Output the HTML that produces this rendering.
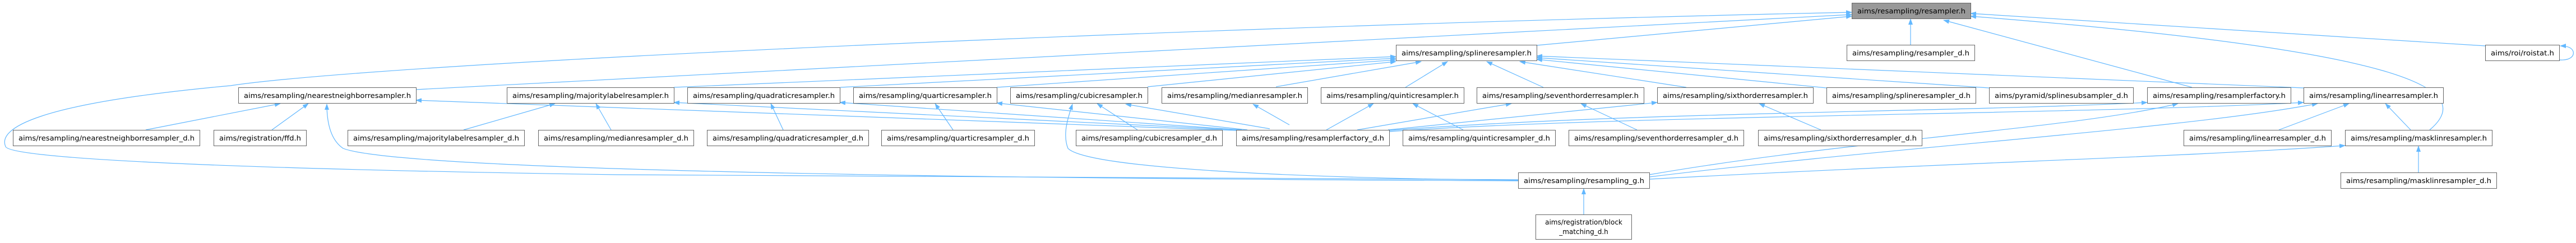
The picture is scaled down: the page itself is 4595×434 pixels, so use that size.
<!DOCTYPE html>
<html><head><meta charset="utf-8"><style>
html,body{margin:0;padding:0;background:#fff;}
svg{display:block;}
text{font-family:"DejaVu Sans","Liberation Sans",sans-serif;font-size:12px;fill:#000;}
.b{fill:#fff;stroke:#666;stroke-width:1;}
.e{fill:none;stroke:#63b8ff;stroke-width:1.2;}
</style></head><body>
<svg width="4595" height="434" viewBox="0 0 4595 434" xmlns="http://www.w3.org/2000/svg">
<defs>
<marker id="a" markerWidth="11" markerHeight="8" refX="10" refY="4" orient="auto" markerUnits="userSpaceOnUse">
<path d="M0,0 L11,4 L0,8 z" fill="#63b8ff"/>
</marker>
</defs>
<g marker-end="url(#a)">
<!-- to root -->
<path class="e" d="M3408,80 L3408,34"/>
<path class="e" d="M2741,81 L3303,29"/>
<path class="e" d="M3910,156 L3467,36"/>
<path class="e" d="M4334,232 C4420,160 4300,90 3515,29"/>
<path class="e" d="M4434,82 L3515,24"/>
<path class="e" d="M742,160 L3303,26"/>
<path class="e" d="M2708,321 L1100,312 C300,300 20,280 10,262 C-4,230 60,185 411,153 C700,110 2200,45 3303,22"/>
<path class="e" d="M4566,107 C4585,108 4592,100 4590,92 C4588,86 4582,82 4567,82"/>
<!-- to spline -->
<path class="e" d="M1202,156 L2490,101"/>
<path class="e" d="M1499,156 L2490,104"/>
<path class="e" d="M1778,156 L2490,107"/>
<path class="e" d="M2047,155 L2490,110"/>
<path class="e" d="M2276,155 L2535,110"/>
<path class="e" d="M2507,156 L2582,110"/>
<path class="e" d="M2753,156 L2652,110"/>
<path class="e" d="M3008,156 L2711,110"/>
<path class="e" d="M3258,157 L2741,106"/>
<path class="e" d="M3548,157 L2741,103"/>
<path class="e" d="M4109,157 L2741,100"/>
<!-- row4 to row3 -->
<path class="e" d="M260,232 L500,185"/>
<path class="e" d="M485,232 L550,185"/>
<path class="e" d="M2708,323 C1500,318 700,300 612,265 C590,250 583,220 583,186"/>
<path class="e" d="M2205,233 L742,179"/>
<path class="e" d="M2210,232 L1202,183"/>
<path class="e" d="M827,232 L990,185"/>
<path class="e" d="M1090,232 L1063,185"/>
<path class="e" d="M1397,232 L1375,185"/>
<path class="e" d="M2215,232 L1498,183"/>
<path class="e" d="M1700,232 L1668,185"/>
<path class="e" d="M2225,232 L1778,184"/>
<path class="e" d="M2029,232 L1957,185"/>
<path class="e" d="M2265,230 L2008,186"/>
<path class="e" d="M2708,322 C2300,318 1940,300 1905,265 C1895,240 1905,210 1913,186"/>
<path class="e" d="M2300,223 L2235,186"/>
<path class="e" d="M2366,232 L2450,185"/>
<path class="e" d="M2610,232 L2520,185"/>
<path class="e" d="M2421,232 L2696,185"/>
<path class="e" d="M2920,232 L2820,185"/>
<path class="e" d="M2476,232 L2956,183"/>
<path class="e" d="M3248,232 L3138,185"/>
<path class="e" d="M2478,233 C2900,200 3500,200 3830,183"/>
<path class="e" d="M2478,235 C2900,205 3700,205 4109,183"/>
<path class="e" d="M2942,312 C3300,250 3700,230 3885,185"/>
<path class="e" d="M2942,316 C3400,260 3900,230 4134,185"/>
<path class="e" d="M2942,320 C3500,290 3900,280 4183,260"/>
<path class="e" d="M4065,232 L4190,185"/>
<path class="e" d="M4300,232 L4255,185"/>
<path class="e" d="M4314,308 L4314,261"/>
<path class="e" d="M2825,384 L2825,337"/>
</g>
<!-- nodes -->
<rect x="3303.5" y="5.5" width="212" height="28" fill="#999" stroke="#666"/>
<text x="3313" y="24" textLength="193" lengthAdjust="spacingAndGlyphs">aims/resampling/resampler.h</text>
<g>
<rect class="b" x="2490.5" y="80.5" width="251" height="28"/><text x="2500" y="99" textLength="232" lengthAdjust="spacingAndGlyphs">aims/resampling/splineresampler.h</text>
<rect class="b" x="3294.5" y="80.5" width="228" height="28"/><text x="3304" y="99" textLength="209" lengthAdjust="spacingAndGlyphs">aims/resampling/resampler_d.h</text>
<rect class="b" x="4433.5" y="80.5" width="132" height="28"/><text x="4443" y="99" textLength="113" lengthAdjust="spacingAndGlyphs">aims/roi/roistat.h</text>

<rect class="b" x="425.5" y="156.5" width="317" height="28"/><text x="435" y="175" textLength="298" lengthAdjust="spacingAndGlyphs">aims/resampling/nearestneighborresampler.h</text>
<rect class="b" x="904.5" y="156.5" width="298" height="28"/><text x="914" y="175" textLength="279" lengthAdjust="spacingAndGlyphs">aims/resampling/majoritylabelresampler.h</text>
<rect class="b" x="1226.5" y="156.5" width="272" height="28"/><text x="1236" y="175" textLength="253" lengthAdjust="spacingAndGlyphs">aims/resampling/quadraticresampler.h</text>
<rect class="b" x="1522.5" y="156.5" width="256" height="28"/><text x="1532" y="175" textLength="237" lengthAdjust="spacingAndGlyphs">aims/resampling/quarticresampler.h</text>
<rect class="b" x="1802.5" y="156.5" width="245" height="28"/><text x="1812" y="175" textLength="226" lengthAdjust="spacingAndGlyphs">aims/resampling/cubicresampler.h</text>
<rect class="b" x="2072.5" y="156.5" width="260" height="28"/><text x="2082" y="175" textLength="241" lengthAdjust="spacingAndGlyphs">aims/resampling/medianresampler.h</text>
<rect class="b" x="2356.5" y="156.5" width="255" height="28"/><text x="2366" y="175" textLength="236" lengthAdjust="spacingAndGlyphs">aims/resampling/quinticresampler.h</text>
<rect class="b" x="2634.5" y="156.5" width="298" height="28"/><text x="2644" y="175" textLength="279" lengthAdjust="spacingAndGlyphs">aims/resampling/seventhorderresampler.h</text>
<rect class="b" x="2956.5" y="156.5" width="278" height="28"/><text x="2966" y="175" textLength="259" lengthAdjust="spacingAndGlyphs">aims/resampling/sixthorderresampler.h</text>
<rect class="b" x="3258.5" y="156.5" width="266" height="28"/><text x="3268" y="175" textLength="247" lengthAdjust="spacingAndGlyphs">aims/resampling/splineresampler_d.h</text>
<rect class="b" x="3548.5" y="156.5" width="257" height="28"/><text x="3558" y="175" textLength="238" lengthAdjust="spacingAndGlyphs">aims/pyramid/splinesubsampler_d.h</text>
<rect class="b" x="3830.5" y="156.5" width="256" height="28"/><text x="3840" y="175" textLength="237" lengthAdjust="spacingAndGlyphs">aims/resampling/resamplerfactory.h</text>
<rect class="b" x="4109.5" y="156.5" width="249" height="28"/><text x="4119" y="175" textLength="230" lengthAdjust="spacingAndGlyphs">aims/resampling/linearresampler.h</text>

<rect class="b" x="23.5" y="232.5" width="333" height="28"/><text x="33" y="251" textLength="314" lengthAdjust="spacingAndGlyphs">aims/resampling/nearestneighborresampler_d.h</text>
<rect class="b" x="381.5" y="232.5" width="165" height="28"/><text x="391" y="251" textLength="146" lengthAdjust="spacingAndGlyphs">aims/registration/ffd.h</text>
<rect class="b" x="620.5" y="232.5" width="315" height="28"/><text x="630" y="251" textLength="296" lengthAdjust="spacingAndGlyphs">aims/resampling/majoritylabelresampler_d.h</text>
<rect class="b" x="960.5" y="232.5" width="277" height="28"/><text x="970" y="251" textLength="258" lengthAdjust="spacingAndGlyphs">aims/resampling/medianresampler_d.h</text>
<rect class="b" x="1261.5" y="232.5" width="288" height="28"/><text x="1271" y="251" textLength="269" lengthAdjust="spacingAndGlyphs">aims/resampling/quadraticresampler_d.h</text>
<rect class="b" x="1572.5" y="232.5" width="273" height="28"/><text x="1582" y="251" textLength="254" lengthAdjust="spacingAndGlyphs">aims/resampling/quarticresampler_d.h</text>
<rect class="b" x="1919.5" y="232.5" width="261" height="28"/><text x="1929" y="251" textLength="242" lengthAdjust="spacingAndGlyphs">aims/resampling/cubicresampler_d.h</text>
<rect class="b" x="2205.5" y="232.5" width="273" height="28"/><text x="2215" y="251" textLength="254" lengthAdjust="spacingAndGlyphs">aims/resampling/resamplerfactory_d.h</text>
<rect class="b" x="2502.5" y="232.5" width="272" height="28"/><text x="2512" y="251" textLength="253" lengthAdjust="spacingAndGlyphs">aims/resampling/quinticresampler_d.h</text>
<rect class="b" x="2798.5" y="232.5" width="312" height="28"/><text x="2808" y="251" textLength="293" lengthAdjust="spacingAndGlyphs">aims/resampling/seventhorderresampler_d.h</text>
<rect class="b" x="3136.5" y="232.5" width="292" height="28"/><text x="3146" y="251" textLength="273" lengthAdjust="spacingAndGlyphs">aims/resampling/sixthorderresampler_d.h</text>
<rect class="b" x="3895.5" y="232.5" width="263" height="28"/><text x="3905" y="251" textLength="244" lengthAdjust="spacingAndGlyphs">aims/resampling/linearresampler_d.h</text>
<rect class="b" x="4183.5" y="232.5" width="262" height="28"/><text x="4193" y="251" textLength="243" lengthAdjust="spacingAndGlyphs">aims/resampling/masklinresampler.h</text>

<rect class="b" x="2708.5" y="308.5" width="234" height="28"/><text x="2718" y="327" textLength="215" lengthAdjust="spacingAndGlyphs">aims/resampling/resampling_g.h</text>
<rect class="b" x="4175.5" y="308.5" width="278" height="28"/><text x="4185" y="327" textLength="259" lengthAdjust="spacingAndGlyphs">aims/resampling/masklinresampler_d.h</text>

<rect class="b" x="2739.5" y="383.5" width="171" height="44"/>
<text x="2825" y="401" text-anchor="middle">aims/registration/block</text>
<text x="2825" y="418" text-anchor="middle">_matching_d.h</text>
</g>
</svg>
</body></html>
